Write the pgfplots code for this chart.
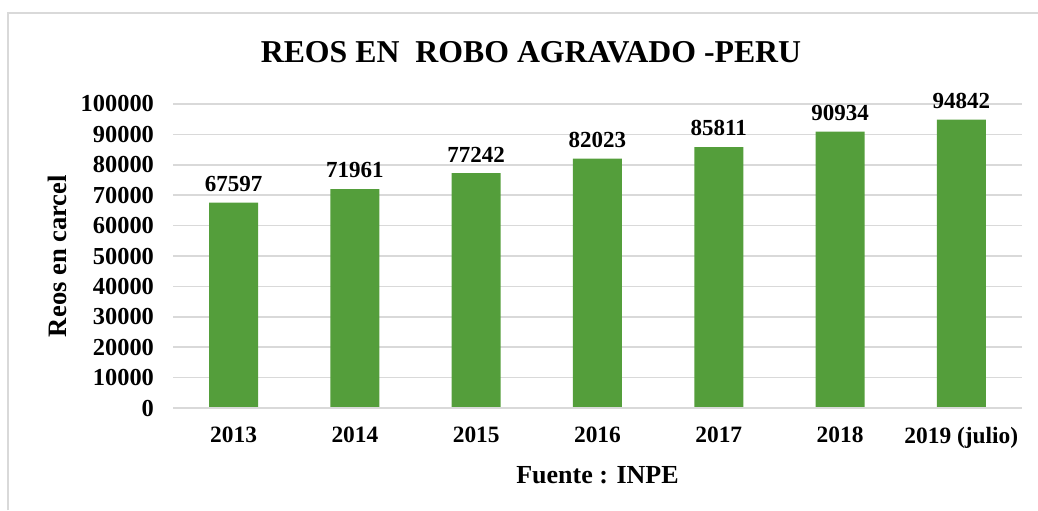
\documentclass[border=0pt]{standalone}
\usepackage{pgfplots}
\pgfplotsset{compat=1.18}
\usepackage{fontspec}
\setmainfont{Liberation Serif}
\definecolor{bargreen}{RGB}{84,158,59}
\definecolor{gridgray}{RGB}{217,217,217}
\begin{document}
\begin{tikzpicture}
\useasboundingbox (0,0) rectangle (519pt,255pt);
\draw[gridgray, line width=0.8pt] (4pt,0) -- (4pt,248.5pt) -- (519pt,248.5pt);
\node[font=\fontsize{15.9}{18}\selectfont\bfseries] at (265.5pt,229pt) {REOS EN\ \ ROBO AGRAVADO -PERU};
\begin{axis}[
  at={(86.5pt,51pt)}, anchor=south west,
  scale only axis, width=424.5pt, height=152pt,
  xmin=-0.5, xmax=6.5, ymin=0, ymax=100000,
  ytick={0,10000,...,100000},
  xtick={0,...,6},
  xticklabels={2013,2014,2015,2016,2017,2018,2019 (julio)},
  scaled y ticks=false,
  /pgf/number format/assume math mode=true,
  yticklabel style={/pgf/number format/fixed, /pgf/number format/1000 sep={}, font=\fontsize{12.2}{13}\selectfont\bfseries, xshift=-6pt},
  xticklabel style={font=\fontsize{11.7}{13}\selectfont\bfseries, yshift=-6pt},
  major tick length=0pt,
  axis line style={draw=none},
  ymajorgrids, grid style={gridgray, line width=0.8pt},
  ybar, bar width=24.5pt,
  xlabel={Fuente : INPE}, ylabel={Reos en carcel},
  xlabel style={font=\fontsize{13}{14}\selectfont\bfseries, yshift=-2pt},
  ylabel style={font=\fontsize{13.3}{14}\selectfont\bfseries, yshift=0pt},
  nodes near coords,
  nodes near coords style={font=\fontsize{11.5}{13}\selectfont\bfseries, /pgf/number format/fixed, /pgf/number format/1000 sep={}, yshift=2pt},
  clip=false,
]
\addplot[fill=bargreen, draw=none] coordinates {(0,67597) (1,71961) (2,77242) (3,82023) (4,85811) (5,90934) (6,94842)};
\draw[gridgray, line width=0.8pt] (axis cs:-0.5,0) -- (axis cs:6.5,0);
\end{axis}
\end{tikzpicture}
\end{document}
